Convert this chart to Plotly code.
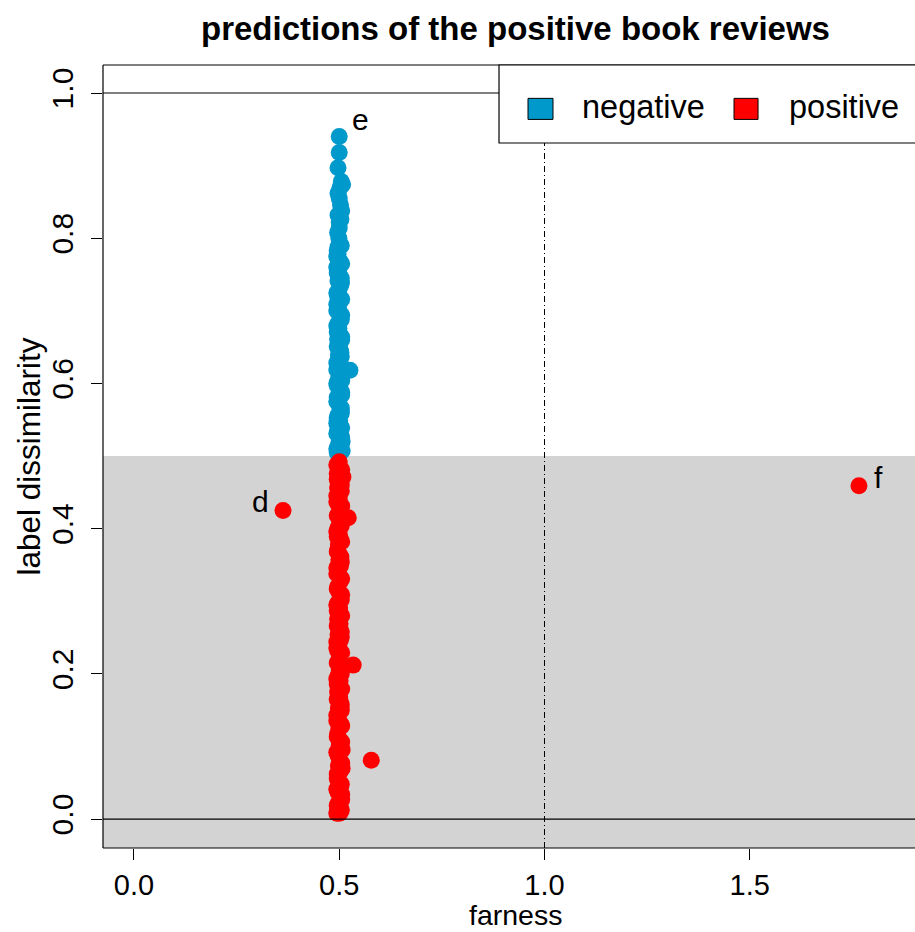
import plotly.graph_objects as go

# ---------------- data ----------------
neg_x = [0.500, 0.500, 0.497, 0.505, 0.502, 0.500, 0.503, 0.497, 0.500, 0.500, 0.499, 0.497,
         0.497, 0.500, 0.502, 0.498, 0.501, 0.497, 0.503, 0.499, 0.496, 0.501, 0.498, 0.500,
         0.503, 0.497, 0.499, 0.501, 0.496, 0.500, 0.502, 0.498, 0.497, 0.504, 0.526, 0.501,
         0.497, 0.499, 0.503, 0.506, 0.498, 0.500, 0.505, 0.497, 0.501, 0.499, 0.496, 0.505,
         0.500, 0.497, 0.502, 0.499, 0.494, 0.506, 0.494, 0.505, 0.495, 0.507, 0.494,
         0.494, 0.506, 0.495, 0.505, 0.494, 0.506, 0.495, 0.505, 0.494, 0.506, 0.495, 0.505,
         0.494, 0.506, 0.495, 0.506, 0.494, 0.505, 0.495, 0.506, 0.494, 0.505, 0.495, 0.507,
         0.494, 0.505, 0.496, 0.504, 0.497, 0.506, 0.508,
         0.495, 0.505, 0.494, 0.506, 0.495, 0.504, 0.494, 0.506, 0.495, 0.505, 0.494, 0.506]
neg_y = [0.940, 0.918, 0.897, 0.878, 0.870, 0.855, 0.846, 0.832, 0.822, 0.814, 0.800, 0.788,
         0.779, 0.770, 0.762, 0.755, 0.748, 0.741, 0.735, 0.728, 0.720, 0.713, 0.705, 0.698,
         0.690, 0.683, 0.676, 0.668, 0.661, 0.653, 0.646, 0.640, 0.632, 0.625, 0.618, 0.612,
         0.605, 0.598, 0.590, 0.584, 0.577, 0.570, 0.562, 0.556, 0.549, 0.542, 0.535, 0.528,
         0.521, 0.514, 0.507, 0.501, 0.700, 0.660, 0.600, 0.740, 0.550, 0.520, 0.510,
         0.775, 0.765, 0.752, 0.738, 0.725, 0.716, 0.702, 0.688, 0.679, 0.664, 0.651, 0.637,
         0.628, 0.611, 0.597, 0.588, 0.575, 0.566, 0.553, 0.539, 0.531, 0.516, 0.505, 0.507,
         0.760, 0.790, 0.808, 0.826, 0.862, 0.838, 0.874,
         0.783, 0.745, 0.709, 0.694, 0.671, 0.643, 0.619, 0.604, 0.581, 0.559, 0.545, 0.524]

pos_x = [0.500, 0.497, 0.503, 0.509, 0.499, 0.496, 0.502, 0.500, 0.497, 0.503, 0.499, 0.522,
         0.501, 0.497, 0.500, 0.503, 0.498, 0.496, 0.501, 0.499, 0.503, 0.497, 0.500, 0.502,
         0.496, 0.499, 0.503, 0.497, 0.501, 0.499, 0.496, 0.502, 0.500, 0.497, 0.503, 0.499,
         0.496, 0.501, 0.498, 0.534, 0.500, 0.497, 0.502, 0.499, 0.496, 0.501, 0.503, 0.498,
         0.500, 0.497, 0.504, 0.499, 0.496, 0.502, 0.500, 0.507, 0.497, 0.578, 0.501, 0.498,
         0.503, 0.496, 0.500, 0.502, 0.497, 0.505, 0.499, 0.503, 0.500, 0.501,
         0.494, 0.506, 0.495, 0.505, 0.494, 0.506, 0.495, 0.505, 0.494, 0.506, 0.495, 0.505,
         0.494, 0.506, 0.495, 0.505, 0.494, 0.506, 0.495, 0.505, 0.494, 0.506, 0.495, 0.505,
         0.494, 0.506, 0.495, 0.505, 0.494, 0.506, 0.495, 0.505, 0.494, 0.506, 0.495, 0.505,
         0.494, 0.506, 0.495, 0.505, 0.494, 0.506, 0.495, 0.507, 0.496,
         0.495, 0.505, 0.494, 0.506, 0.495, 0.504, 0.494, 0.506, 0.495, 0.505, 0.494, 0.506,
         0.495, 0.505, 0.494, 0.506,
         0.363, 1.766]
pos_y = [0.492, 0.485, 0.478, 0.471, 0.463, 0.456, 0.449, 0.441, 0.434, 0.427, 0.420, 0.415,
         0.408, 0.401, 0.393, 0.386, 0.379, 0.371, 0.364, 0.357, 0.349, 0.342, 0.335, 0.327,
         0.320, 0.313, 0.305, 0.298, 0.291, 0.283, 0.276, 0.269, 0.261, 0.254, 0.247, 0.240,
         0.232, 0.225, 0.218, 0.212, 0.205, 0.197, 0.190, 0.183, 0.175, 0.168, 0.161, 0.153,
         0.146, 0.139, 0.131, 0.124, 0.117, 0.109, 0.102, 0.095, 0.088, 0.081, 0.080, 0.073,
         0.066, 0.058, 0.051, 0.044, 0.037, 0.030, 0.023, 0.016, 0.011, 0.008,
         0.488, 0.481, 0.468, 0.452, 0.445, 0.431, 0.418, 0.404, 0.396, 0.382, 0.368, 0.354,
         0.346, 0.331, 0.317, 0.302, 0.295, 0.280, 0.266, 0.251, 0.244, 0.229, 0.215, 0.200,
         0.193, 0.179, 0.165, 0.150, 0.143, 0.128, 0.113, 0.099, 0.092, 0.077, 0.062, 0.048,
         0.041, 0.027, 0.019, 0.012, 0.008, 0.034, 0.056, 0.070, 0.014,
         0.476, 0.460, 0.437, 0.412, 0.389, 0.361, 0.338, 0.309, 0.287, 0.258, 0.236, 0.207,
         0.186, 0.157, 0.135, 0.106,
         0.425, 0.459]

label_text = ["d", "e", "f"]
label_x = [0.363, 0.500, 1.766]
label_y = [0.425, 0.940, 0.459]
label_shift_x = [-23, 21, 20]
label_shift_y = [9, 17, 8]

x_ticks = [0.0, 0.5, 1.0, 1.5]
y_ticks = [0.0, 0.2, 0.4, 0.6, 0.8, 1.0]
series_names = ["negative", "positive"]
series_colors = ["#0099CC", "#FF0000"]

FONT = "Liberation Sans, Arial, sans-serif"

fig = go.Figure()
fig.add_trace(go.Scatter(x=neg_x, y=neg_y, mode="markers", name=series_names[0],
                         marker=dict(color=series_colors[0], size=17, line=dict(width=0)),
                         showlegend=False))
fig.add_trace(go.Scatter(x=pos_x, y=pos_y, mode="markers", name=series_names[1],
                         marker=dict(color=series_colors[1], size=17, line=dict(width=0)),
                         showlegend=False))

shapes = [
    # grey region
    dict(type="rect", xref="paper", yref="y", x0=0, x1=1, y0=-0.0399, y1=0.5,
         fillcolor="#D3D3D3", line=dict(width=0), layer="below"),
    dict(type="line", xref="paper", yref="y", x0=0, x1=1, y0=0, y1=0,
         line=dict(color="black", width=1.2)),
    dict(type="line", xref="paper", yref="y", x0=0, x1=1, y0=1, y1=1,
         line=dict(color="black", width=1.2)),
    dict(type="line", xref="x", yref="paper", x0=1, x1=1, y0=0, y1=1,
         line=dict(color="black", width=1, dash="6px,3px,1px,3px")),
    # plot box (left, top, bottom)
    dict(type="line", xref="paper", yref="paper", x0=0, x1=0, y0=0, y1=1,
         line=dict(color="black", width=1.2)),
    dict(type="line", xref="paper", yref="paper", x0=0, x1=1.01, y0=1, y1=1,
         line=dict(color="black", width=1.2)),
    dict(type="line", xref="paper", yref="paper", x0=0, x1=1.01, y0=0, y1=0,
         line=dict(color="black", width=1.2)),
    # legend box
    dict(type="rect", xref="paper", yref="paper", x0=0.4877, x1=1.02, y0=0.9004, y1=1.0,
         fillcolor="white", line=dict(color="black", width=1.2)),
    dict(type="rect", xref="paper", yref="paper", x0=0.5234, x1=0.5542, y0=0.9305, y1=0.9574,
         fillcolor=series_colors[0], line=dict(color="black", width=1)),
    dict(type="rect", xref="paper", yref="paper", x0=0.7771, x1=0.8067, y0=0.9305, y1=0.9574,
         fillcolor=series_colors[1], line=dict(color="black", width=1)),
]

annotations = [
    dict(text="<b>predictions of the positive book reviews</b>", xref="paper", yref="paper",
         x=0.5074, y=1.0, yshift=37, showarrow=False, xanchor="center", yanchor="middle",
         font=dict(size=33, family=FONT, color="black")),
    dict(text="farness", xref="paper", yref="paper", x=0.5074, y=0, yshift=-84,
         showarrow=False, xanchor="center", yanchor="bottom", borderpad=0,
         font=dict(size=28.5, family=FONT, color="black")),
    dict(text="label dissimilarity", xref="paper", yref="paper", x=0, xshift=-75, y=0.5,
         showarrow=False, textangle=-90, xanchor="center", yanchor="middle",
         font=dict(size=31.5, family=FONT, color="black")),
    dict(text=series_names[0], xref="paper", yref="paper", x=0.588, y=0.9464,
         showarrow=False, xanchor="left", yanchor="middle",
         font=dict(size=32.5, family=FONT, color="black")),
    dict(text=series_names[1], xref="paper", yref="paper", x=0.8420, y=0.9464,
         showarrow=False, xanchor="left", yanchor="middle",
         font=dict(size=32.5, family=FONT, color="black")),
]
for t, lx, ly, sx, sy in zip(label_text, label_x, label_y, label_shift_x, label_shift_y):
    annotations.append(dict(text=t, x=lx, y=ly, xref="x", yref="y", showarrow=False,
                            xshift=sx, yshift=sy, xanchor="center", yanchor="middle",
                            font=dict(size=30, family=FONT, color="black")))

fig.update_layout(
    width=915, height=932,
    margin=dict(l=103, r=0, t=65, b=84),
    paper_bgcolor="white", plot_bgcolor="white",
    font=dict(family=FONT, color="black"),
    shapes=shapes, annotations=annotations,
    showlegend=False,
    xaxis=dict(range=[-0.0755, 1.9025], tickvals=x_ticks, ticktext=["0.0", "0.5", "1.0", "1.5"],
               ticks="outside", ticklen=11, tickcolor="black", tickwidth=1.2,
               showgrid=False, zeroline=False, showline=False, ticklabelstandoff=0,
               tickfont=dict(size=29, family=FONT, color="black")),
    yaxis=dict(range=[-0.0399, 1.0386], tickvals=y_ticks,
               ticktext=["0.0", "0.2", "0.4", "0.6", "0.8", "1.0"],
               ticks="outside", ticklen=11, tickcolor="black", tickwidth=1.2,
               tickangle=-90, showgrid=False, zeroline=False, showline=False,
               ticklabelstandoff=6,
               tickfont=dict(size=30, family=FONT, color="black")),
)

fig.write_html("out.html", config={"displayModeBar": False},
               post_script="document.body.style.margin='0';")
